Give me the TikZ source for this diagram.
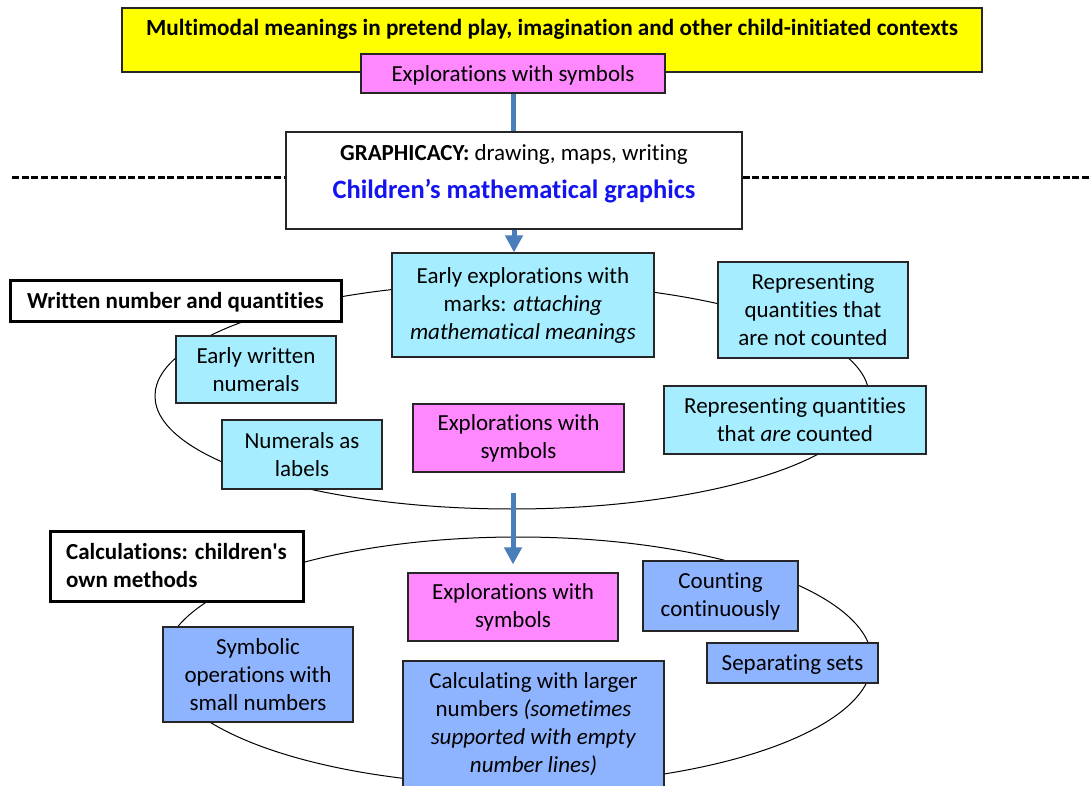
\documentclass[tikz,border=0pt]{standalone}
\usepackage{fontspec}
\setmainfont{Carlito}[Ligatures={NoCommon}]
\usetikzlibrary{arrows.meta,positioning}
\definecolor{playyellow}{HTML}{FFFF00}
\definecolor{sympink}{HTML}{FF88FF}
\definecolor{markcyan}{HTML}{A6EEFF}
\definecolor{calcblue}{HTML}{8FB4FF}
\definecolor{flowblue}{HTML}{4A7EBB}
\definecolor{graphblue}{HTML}{1414F0}

\begin{document}
\begin{tikzpicture}[x=1pt, y=-1pt,
 font=\fontsize{23}{28}\selectfont,
 line/.style = {execute at begin node={\rule{0pt}{21pt}}, execute at end node={\rule[-5.6pt]{0pt}{0pt}}},
 block/.style = {draw=black!85, line width=1.1pt, rectangle, inner sep=0pt, align=center},
 yblock/.style = {block, fill=playyellow},
 pblock/.style = {block, fill=sympink},
 cblock/.style = {block, fill=markcyan},
 bblock/.style = {block, fill=calcblue},
 wblock/.style = {block, fill=white},
 tblock/.style = {block, draw=black, line width=3pt, fill=white, font=\fontsize{23}{28}\selectfont\bfseries},
 flow/.style = {draw=flowblue, line width=5pt},
 flowtip/.style = {flow, -{Triangle[width=17pt,length=17pt]}},
 dashline/.style = {draw=black, line width=3pt, dash pattern=on 7pt off 2.7pt},
 ring/.style = {draw=black, line width=1pt},
                        ]
    \useasboundingbox (0,0) rectangle (1092,786);
    \clip (0,0) rectangle (1092,786);

%% the two rings behind the boxes
    \draw[ring] (512,396) ellipse [x radius=357, y radius=113];
    \draw[ring] (518,661) ellipse [x radius=354, y radius=124];

%% top
    \node [yblock, minimum width=860pt, minimum height=64pt] (play) at (552,40) {};
    \node [line, font=\fontsize{23.2}{28}\selectfont\bfseries] (playtxt) at (552,28)
        {Multimodal meanings in pretend play, imagination and other child-initiated contexts};
    \node [pblock, line, minimum width=304pt, minimum height=39pt] (topsym) at (513,73.5) {Explorations with symbols};

    \node [wblock, minimum width=456pt, minimum height=97pt] (graph) at (514,180.5) {};
    \node [line] (graphtxt) at (514,153) {\textbf{GRAPHICACY:} drawing, maps, writing};
    \node [line, font=\fontsize{26.5}{30}\selectfont\bfseries, text=graphblue] (graphmath) at (514,191)
        {Children’s mathematical graphics};

%% written number and quantities
    \node [cblock, minimum width=262pt, minimum height=104pt] (early) at (523,305)
        {Early explorations with\\ marks: \textit{attaching}\\ \textit{mathematical meanings}};
    \node [tblock, line, minimum width=331pt, minimum height=40pt] (written) at (175.5,301) {Written number and quantities};
    \node [cblock, minimum width=190pt, minimum height=96pt] (notcnt) at (813,310)
        {Representing\\ quantities that\\ are not counted};
    \node [cblock, minimum width=160pt, minimum height=67pt] (ewn) at (256,369.5) {Early written\\ numerals};
    \node [cblock, minimum width=160pt, minimum height=69pt] (labels) at (302,454.5) {Numerals as\\ labels};
    \node [pblock, minimum width=211pt, minimum height=68pt] (midsym) at (518.5,438) {Explorations with\\ symbols};
    \node [cblock, minimum width=262pt, minimum height=68pt] (arecnt) at (795,420)
        {Representing quantities\\ that \textit{are} counted};

%% calculations
    \node [tblock, align=left, minimum width=253pt, minimum height=70pt] (calc) at (176.5,566)
        {Calculations: children\textquotesingle s\\ own methods};
    \node [pblock, minimum width=210pt, minimum height=68pt] (lowsym) at (513,607) {Explorations with\\ symbols};
    \node [bblock, minimum width=155pt, minimum height=70pt] (contin) at (720.5,596) {Counting\\ continuously};
    \node [bblock, minimum width=190pt, minimum height=95pt] (symop) at (258,674.5)
        {Symbolic\\ operations with\\ small numbers};
    \node [bblock, line, minimum width=171pt, minimum height=40pt] (sepsets) at (792.5,663) {Separating sets};
    \node [bblock, minimum width=261pt, minimum height=127pt] (larger) at (533.5,724.5)
        {Calculating with larger\\ numbers \textit{(sometimes}\\ \textit{supported with empty}\\ \textit{number lines)}};

%% paths
    \coordinate (dashl) at (12,178);
    \coordinate (dashr) at (1092,178);
    \coordinate (drop) at (513,493);
    \path[dashline] (dashl) -- (dashl -| graph.west)
                    (graph.east |- dashr) -- (dashr);
    \path[flow]     (topsym.south) -- (topsym.south |- graph.north);
    \path[flowtip]  (graph.south) -- (graph.south |- early.north);
    \path[flowtip]  (drop) -- ([yshift=8pt]lowsym.north);
\end{tikzpicture}
\end{document}
